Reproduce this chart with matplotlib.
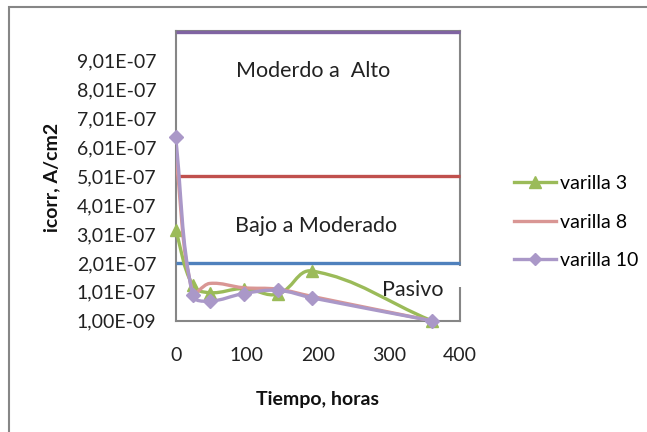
import numpy as np
import matplotlib
matplotlib.use("Agg")
import matplotlib.pyplot as plt
from matplotlib.path import Path
from matplotlib.patches import PathPatch, Rectangle
from matplotlib.lines import Line2D
from matplotlib.ticker import FixedLocator, FuncFormatter

plt.rcParams['font.family'] = ['Lato', 'DejaVu Sans']

# tiempo de exposicion (horas) y corriente de corrosion (A/cm2)
horas = [0, 24, 48, 96, 144, 192, 360]
varilla_3 = [3.15e-7, 1.24e-7, 9.8e-8, 1.12e-7, 9.3e-8, 1.73e-7, 1e-9]
varilla_8 = [5.75e-7, 1.0e-7, 1.3e-7, 1.15e-7, 1.1e-7, 8.5e-8, 1e-9]
varilla_10 = [6.37e-7, 8.9e-8, 6.9e-8, 9.5e-8, 1.06e-7, 8.0e-8, 1e-9]

# limites de los niveles de corrosion
limites = [2e-7, 5e-7, 1e-6]
limite_colores = ['#4F81BD', '#C0504D', '#8064A2']

y_ticks = [1e-9 + k * 1e-7 for k in range(10)]
x_ticks = [0, 100, 200, 300, 400]

FS = 14


def smooth_path(ax, x, y):
    # curva suavizada (Bezier), tangentes pesadas por longitud en pixeles
    pts = ax.transData.transform(np.column_stack([x, y]).astype(float))
    n = len(pts)
    tang = []
    for i in range(n):
        a = pts[i - 1] if i > 0 else pts[i]
        b = pts[i + 1] if i < n - 1 else pts[i]
        tang.append(b - a)
    verts = [pts[0]]
    codes = [Path.MOVETO]
    for i in range(n - 1):
        p1, p2 = pts[i], pts[i + 1]
        seg = np.hypot(*(p2 - p1))
        def scale(j):
            a = pts[j - 1] if j > 0 else pts[j]
            b = pts[j + 1] if j < n - 1 else pts[j]
            tot = np.hypot(*(pts[j] - a)) + np.hypot(*(b - pts[j]))
            return seg / tot / 2.5 if tot > 0 else 0
        c1 = p1 + tang[i] * scale(i)
        c2 = p2 - tang[i + 1] * scale(i + 1)
        verts += [c1, c2, p2]
        codes += [Path.CURVE4] * 3
    verts = ax.transData.inverted().transform(np.array(verts))
    return Path(verts, codes)


fig = plt.figure(figsize=(6.47, 4.32), dpi=100)
ax = fig.add_axes([0.2714, 0.2576, 0.711 - 0.2714, 0.928 - 0.2576])
ax.set_xlim(0, 400)
ax.set_ylim(1e-9, 1.003e-6)

# bandas de nivel
for lim, c in zip(limites, limite_colores):
    ax.plot([0, 400], [lim, lim], color=c, lw=2.4, solid_capstyle='butt',
            zorder=3, clip_on=False)

series = [
    ("varilla 3", varilla_3, '#9BBB59', '^', 9, 8),
    ("varilla 8", varilla_8, '#D99694', None, 0, 0),
    ("varilla 10", varilla_10, '#AA98C8', 'D', 7, 6),
]
handles = []
for i, (nombre, vals, color, mk, ms, ms_leg) in enumerate(series):
    ax.add_patch(PathPatch(smooth_path(ax, horas, vals), facecolor='none',
                           edgecolor=color, lw=2.4, zorder=4 + i))
    if mk:
        ax.plot(horas, vals, linestyle='none', marker=mk, color=color,
                markersize=ms, zorder=4.5 + i, clip_on=False)
    handles.append(Line2D([], [], color=color, lw=2.4, marker=mk, markersize=ms_leg))

ax.xaxis.set_major_locator(FixedLocator(x_ticks))
ax.yaxis.set_major_locator(FixedLocator(y_ticks))
ax.yaxis.set_major_formatter(FuncFormatter(lambda v, p: f"{v:.2E}".replace('.', ',')))
ax.tick_params(length=0, labelsize=FS, colors='#222222')
ax.tick_params(axis='y', pad=14)
ax.tick_params(axis='x', pad=19)
for s in ax.spines.values():
    s.set_color('#868686')
    s.set_linewidth(1.5)

# titulos de ejes
fig.text(318 / 647, 1 - 399 / 432, "Tiempo, horas", fontsize=FS, fontweight='bold',
         ha='center', va='center', color='#111111')
fig.text(52 / 647, 1 - 177 / 432, "icorr, A/cm2", fontsize=FS, fontweight='bold',
         ha='center', va='center', rotation=90, color='#111111')

ax.text(194, 8.64e-7, "Moderdo a  Alto", fontsize=15.5, ha='center', va='center', color='#222222')
ax.text(197, 3.3e-7, "Bajo a Moderado", fontsize=15.5, ha='center', va='center', color='#222222')
ax.add_patch(Rectangle((287, 1.16e-7), 119, 0.76e-7, facecolor='white',
                       edgecolor='none', zorder=3.5, clip_on=False))
ax.text(333, 1.06e-7, "Pasivo", fontsize=15.5, ha='center', va='center', color='#222222', zorder=3.6)

fig.legend(handles, [s[0] for s in series], loc='center left',
           bbox_to_anchor=(0.779, 0.486), frameon=False, fontsize=FS,
           handlelength=2.16, handletextpad=0.2, labelspacing=1.11,
           borderpad=0)

# marco del grafico
fig.add_artist(Rectangle((9 / 647, -0.1), 1.2, 1 - 7 / 432 + 0.1,
                         transform=fig.transFigure, facecolor='none',
                         edgecolor='#868686', lw=1.5))

fig.savefig("out.png", dpi=100)
